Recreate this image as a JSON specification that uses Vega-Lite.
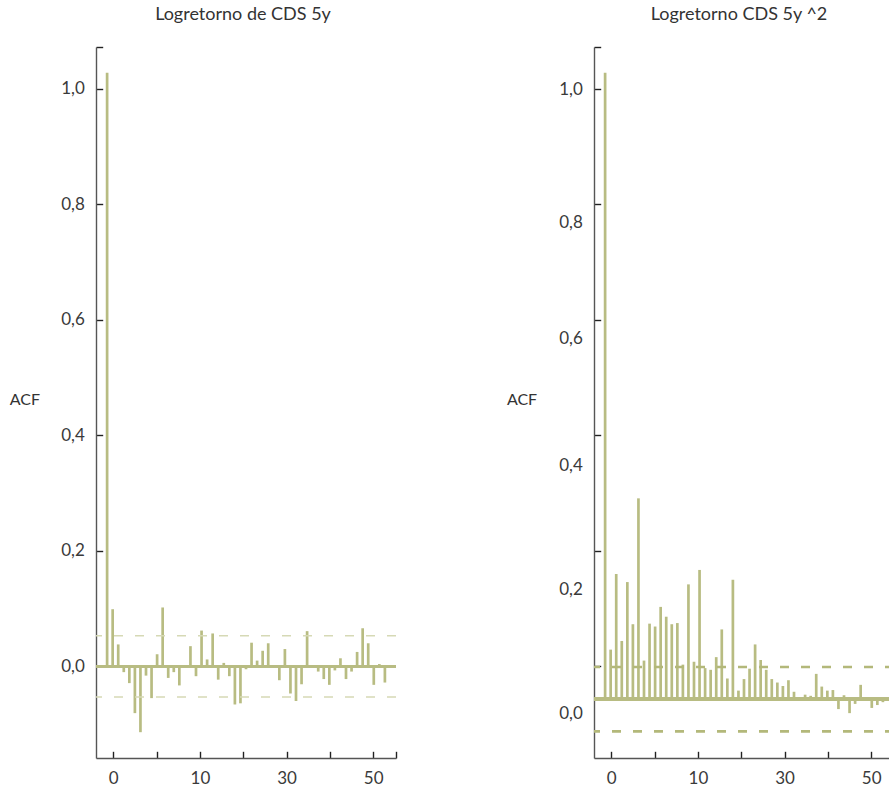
{
  "$schema": "https://vega.github.io/schema/vega-lite/v6.json",
  "padding": {"left": 9, "top": 6, "right": 0, "bottom": 0},
  "spacing": 109,
  "config": {
    "font": "Lato",
    "view": {"stroke": null},
    "title": {"fontSize": 18, "fontWeight": "normal", "color": "#333333", "anchor": "middle", "frame": "group", "baseline": "alphabetic", "offset": 14},
    "axis": {
      "grid": false,
      "domainColor": "#555555",
      "domainWidth": 1.4,
      "tickColor": "#222222",
      "tickWidth": 1.4,
      "tickSize": -6.7,
      "labelFontSize": 17,
      "labelColor": "#3a3a3a",
      "labelFlush": false,
      "labelOverlap": false,
      "titleFontSize": 16,
      "titleFontWeight": "normal",
      "titleColor": "#333333"
    }
  },
  "hconcat": [
    {
      "width": 300,
      "height": 711,
      "title": {"text": "Logretorno de CDS 5y", "dx": -3},
      "data": {"values": [
        {"lag": 0, "acf": 1.028}, {"lag": 1, "acf": 0.099}, {"lag": 2, "acf": 0.038}, {"lag": 3, "acf": -0.010},
        {"lag": 4, "acf": -0.029}, {"lag": 5, "acf": -0.081}, {"lag": 6, "acf": -0.114}, {"lag": 7, "acf": -0.016},
        {"lag": 8, "acf": -0.055}, {"lag": 9, "acf": 0.021}, {"lag": 10, "acf": 0.102}, {"lag": 11, "acf": -0.020},
        {"lag": 12, "acf": -0.010}, {"lag": 13, "acf": -0.033}, {"lag": 14, "acf": 0.002}, {"lag": 15, "acf": 0.035},
        {"lag": 16, "acf": -0.017}, {"lag": 17, "acf": 0.062}, {"lag": 18, "acf": 0.012}, {"lag": 19, "acf": 0.057},
        {"lag": 20, "acf": -0.023}, {"lag": 21, "acf": 0.006}, {"lag": 22, "acf": -0.017}, {"lag": 23, "acf": -0.066},
        {"lag": 24, "acf": -0.064}, {"lag": 25, "acf": -0.005}, {"lag": 26, "acf": 0.041}, {"lag": 27, "acf": 0.010},
        {"lag": 28, "acf": 0.027}, {"lag": 29, "acf": 0.040}, {"lag": 30, "acf": -0.002}, {"lag": 31, "acf": -0.024},
        {"lag": 32, "acf": 0.030}, {"lag": 33, "acf": -0.047}, {"lag": 34, "acf": -0.060}, {"lag": 35, "acf": -0.031},
        {"lag": 36, "acf": 0.061}, {"lag": 37, "acf": 0.001}, {"lag": 38, "acf": -0.009}, {"lag": 39, "acf": -0.022},
        {"lag": 40, "acf": -0.032}, {"lag": 41, "acf": -0.007}, {"lag": 42, "acf": 0.014}, {"lag": 43, "acf": -0.022},
        {"lag": 44, "acf": -0.009}, {"lag": 45, "acf": 0.025}, {"lag": 46, "acf": 0.066}, {"lag": 47, "acf": 0.040},
        {"lag": 48, "acf": -0.032}, {"lag": 49, "acf": 0.004}, {"lag": 50, "acf": -0.028}
      ]},
      "layer": [
        {
          "mark": {"type": "rule", "color": "#b8bc82", "strokeWidth": 2.7},
          "encoding": {
            "x": {"field": "lag", "type": "quantitative",
                  "scale": {"domain": [-2, 52], "nice": false, "zero": false},
                  "axis": {"title": null, "values": [1.1, 8.9, 16.7, 24.5, 32.3, 40.1, 47.9, 52],
                           "labelExpr": "datum.value < 2 ? '0' : datum.value > 16 && datum.value < 17 ? '10' : datum.value > 32 && datum.value < 33 ? '30' : datum.value > 47 && datum.value < 48 ? '50' : ''",
                           "labelPadding": 19.5}},
            "y": {"field": "acf", "type": "quantitative",
                  "scale": {"domain": [-0.1587, 1.0727], "nice": false, "zero": false},
                  "axis": {"title": "ACF", "values": [0, 0.2, 0.4, 0.6, 0.8, 1.0, 1.0727],
                           "labelExpr": "datum.value > 1.05 ? '' : replace(format(datum.value, '.1f'), '.', ',')",
                           "labelPadding": 18.4,
                           "titleAngle": 0, "titleAlign": "left", "titleBaseline": "middle",
                           "titleX": -86.7, "titleY": 352}},
            "y2": {"datum": 0}
          }
        },
        {
          "mark": {"type": "rule", "color": "#b8bc82", "strokeWidth": 2},
          "encoding": {"y": {"datum": 0}}
        },
        {
          "data": {"values": [{"ci": 0.0529}, {"ci": -0.0529}]},
          "mark": {"type": "rule", "color": "#d6d9b5", "strokeWidth": 1.5, "strokeDash": [9, 12]},
          "encoding": {"y": {"field": "ci", "type": "quantitative"}}
        }
      ]
    },
    {
      "width": 300,
      "height": 711,
      "title": {"text": "Logretorno CDS 5y ^2", "dx": -5},
      "data": {"values": [
        {"lag": 0, "acf": 1.028}, {"lag": 1, "acf": 0.029}, {"lag": 2, "acf": 0.160}, {"lag": 3, "acf": 0.044},
        {"lag": 4, "acf": 0.146}, {"lag": 5, "acf": 0.073}, {"lag": 6, "acf": 0.291}, {"lag": 7, "acf": 0.010},
        {"lag": 8, "acf": 0.074}, {"lag": 9, "acf": 0.069}, {"lag": 10, "acf": 0.103}, {"lag": 11, "acf": 0.086},
        {"lag": 12, "acf": 0.073}, {"lag": 13, "acf": 0.075}, {"lag": 14, "acf": 0.003}, {"lag": 15, "acf": 0.142},
        {"lag": 16, "acf": 0.008}, {"lag": 17, "acf": 0.167}, {"lag": 18, "acf": -0.003}, {"lag": 19, "acf": -0.006},
        {"lag": 20, "acf": 0.016}, {"lag": 21, "acf": 0.064}, {"lag": 22, "acf": -0.021}, {"lag": 23, "acf": 0.150},
        {"lag": 24, "acf": -0.042}, {"lag": 25, "acf": -0.022}, {"lag": 26, "acf": -0.004}, {"lag": 27, "acf": 0.038},
        {"lag": 28, "acf": 0.011}, {"lag": 29, "acf": -0.006}, {"lag": 30, "acf": -0.022}, {"lag": 31, "acf": -0.028},
        {"lag": 32, "acf": -0.034}, {"lag": 33, "acf": -0.024}, {"lag": 34, "acf": -0.044}, {"lag": 35, "acf": -0.053},
        {"lag": 36, "acf": -0.049}, {"lag": 37, "acf": -0.051}, {"lag": 38, "acf": -0.013}, {"lag": 39, "acf": -0.035},
        {"lag": 40, "acf": -0.042}, {"lag": 41, "acf": -0.041}, {"lag": 42, "acf": -0.074}, {"lag": 43, "acf": -0.050},
        {"lag": 44, "acf": -0.081}, {"lag": 45, "acf": -0.065}, {"lag": 46, "acf": -0.032}, {"lag": 47, "acf": -0.055},
        {"lag": 48, "acf": -0.072}, {"lag": 49, "acf": -0.067}, {"lag": 50, "acf": -0.062}
      ]},
      "layer": [
        {
          "mark": {"type": "rule", "color": "#b8bc82", "strokeWidth": 2.7},
          "encoding": {
            "x": {"field": "lag", "type": "quantitative",
                  "scale": {"domain": [-2, 52], "nice": false, "zero": false},
                  "axis": {"title": null, "values": [1.1, 8.9, 16.7, 24.5, 32.3, 40.1, 47.9, 52],
                           "labelExpr": "datum.value < 2 ? '0' : datum.value > 16 && datum.value < 17 ? '10' : datum.value > 32 && datum.value < 33 ? '30' : datum.value > 47 && datum.value < 48 ? '50' : ''",
                           "labelPadding": 19.5}},
            "y": {"field": "acf", "type": "quantitative",
                  "scale": {"domain": [-0.1587, 1.0727], "nice": false, "zero": false},
                  "axis": {"title": "ACF", "values": [0, 0.2, 0.4, 0.6, 0.8, 1.0, 1.0727],
                           "labelExpr": "datum.value > 1.05 ? '' : replace(format(datum.value, '.1f'), '.', ',')",
                           "labelOffset": {"expr": "datum.value > 0.9 ? 0.4 : datum.value > 0.7 ? 18 : datum.value > 0.5 ? 18.6 : datum.value > 0.3 ? 30 : datum.value > 0.1 ? 38.3 : 47"},
                           "labelPadding": 18.4,
                           "titleAngle": 0, "titleAlign": "left", "titleBaseline": "middle",
                           "titleX": -87.6, "titleY": 352}},
            "y2": {"datum": -0.0566}
          }
        },
        {
          "mark": {"type": "rule", "color": "#b8bc82", "strokeWidth": 2.7},
          "encoding": {"y": {"datum": -0.0566}}
        },
        {
          "data": {"values": [{"ci": -0.001}, {"ci": -0.1126}]},
          "mark": {"type": "rule", "color": "#b3b87a", "strokeWidth": 2.6, "strokeDash": [9, 12]},
          "encoding": {"y": {"field": "ci", "type": "quantitative"}}
        }
      ]
    }
  ]
}
